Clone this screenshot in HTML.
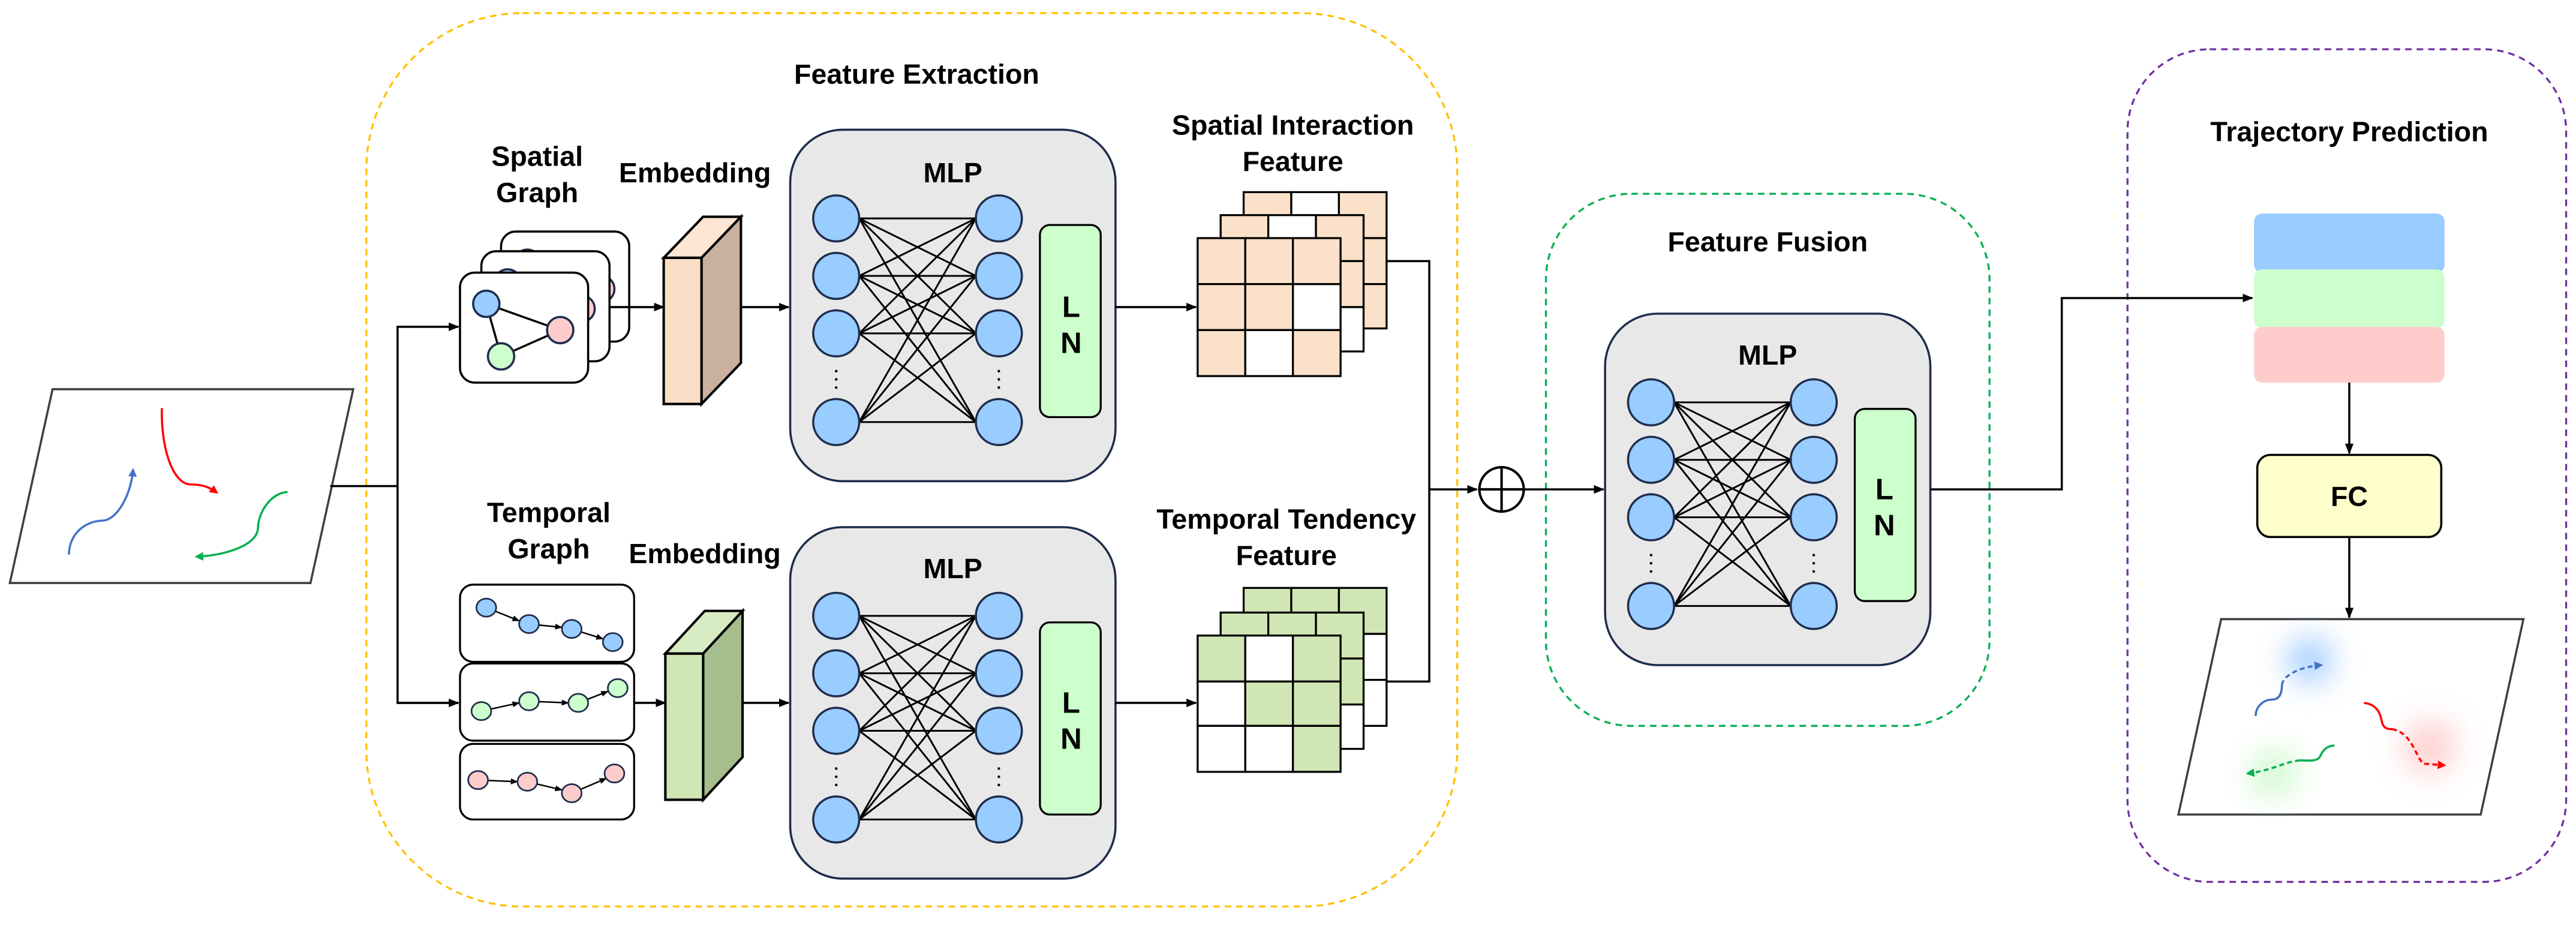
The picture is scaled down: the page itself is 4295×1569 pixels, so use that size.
<!DOCTYPE html>
<html><head><meta charset="utf-8"><style>html,body{margin:0;padding:0;background:#fff}svg{display:block}text{font-family:"Liberation Sans",sans-serif;font-weight:bold;fill:#000;font-size:17px}text.ln{font-size:18px}</style></head>
<body>
<svg width="4295" height="1569" viewBox="0 0 1568 573" preserveAspectRatio="none" xmlns="http://www.w3.org/2000/svg">
<defs>
<marker id="ar" viewBox="0 0 10 10" refX="9" refY="5" markerWidth="5" markerHeight="5" orient="auto"><path d="M0 1L10 5L0 9z" fill="#000"/></marker>
<marker id="ab" viewBox="0 0 10 10" refX="8" refY="5" markerWidth="4" markerHeight="4" orient="auto"><path d="M0 0L10 5L0 10z" fill="#4472c4"/></marker>
<marker id="arr" viewBox="0 0 10 10" refX="8" refY="5" markerWidth="4" markerHeight="4" orient="auto"><path d="M0 0L10 5L0 10z" fill="#ff0000"/></marker>
<marker id="ag" viewBox="0 0 10 10" refX="8" refY="5" markerWidth="4" markerHeight="4" orient="auto"><path d="M0 0L10 5L0 10z" fill="#00b050"/></marker>
<filter id="bl" x="-100%" y="-100%" width="300%" height="300%"><feGaussianBlur stdDeviation="9"/></filter>
<g id="mlp">
<rect x="0" y="0" width="198" height="214" rx="32" fill="#e8e8e8" stroke="#1f2d4d" stroke-width="1.3"/>
<path d="M42 54L113 54M42 54L113 89M42 54L113 124M42 54L113 178M42 89L113 54M42 89L113 89M42 89L113 124M42 89L113 178M42 124L113 54M42 124L113 89M42 124L113 124M42 124L113 178M42 178L113 54M42 178L113 89M42 178L113 124M42 178L113 178" stroke="#000" stroke-width="1.1" fill="none"/>
<g fill="#99ccff" stroke="#1f2d4d" stroke-width="1.3">
<ellipse cx="28" cy="54" rx="14" ry="14"/><ellipse cx="28" cy="89" rx="14" ry="14"/><ellipse cx="28" cy="124" rx="14" ry="14"/><ellipse cx="28" cy="178" rx="14" ry="14"/>
<ellipse cx="127" cy="54" rx="14" ry="14"/><ellipse cx="127" cy="89" rx="14" ry="14"/><ellipse cx="127" cy="124" rx="14" ry="14"/><ellipse cx="127" cy="178" rx="14" ry="14"/>
</g>
<g fill="#000"><circle cx="28" cy="147" r="0.8"/><circle cx="28" cy="152" r="0.8"/><circle cx="28" cy="157" r="0.8"/><circle cx="127" cy="147" r="0.8"/><circle cx="127" cy="152" r="0.8"/><circle cx="127" cy="157" r="0.8"/></g>
<rect x="152" y="58" width="37" height="117" rx="6" fill="#ccffcc" stroke="#000" stroke-width="1.2"/>
</g>
</defs>

<rect x="223" y="8" width="664" height="544" rx="95" fill="none" stroke="#ffc000" stroke-width="1.2" stroke-dasharray="4,3"/>
<rect x="941" y="118" width="270" height="324" rx="52" fill="none" stroke="#00b050" stroke-width="1.2" stroke-dasharray="4,3"/>
<rect x="1295" y="30" width="267" height="507" rx="50" fill="none" stroke="#7030a0" stroke-width="1.2" stroke-dasharray="4,3"/>

<text x="558" y="51" text-anchor="middle">Feature Extraction</text>
<text x="1076" y="153" text-anchor="middle">Feature Fusion</text>
<text x="1430" y="86" text-anchor="middle">Trajectory Prediction</text>

<polygon points="32,237 215,237 189,355 6,355" fill="#fff" stroke="#404040" stroke-width="1.3"/>
<path d="M98.5 248.5C98 275 106 295 116 295C124 295 128 297 132 300" fill="none" stroke="#ff0000" stroke-width="1.3" marker-end="url(#arr)"/>
<path d="M42 337.7C42 325 52 317 63 317C72 316 80 300 81 286" fill="none" stroke="#4472c4" stroke-width="1.3" marker-end="url(#ab)"/>
<path d="M175 299.6C165 300 157 312 157 322C156 332 138 338 119.5 339" fill="none" stroke="#00b050" stroke-width="1.3" marker-end="url(#ag)"/>

<path d="M201 296H242V199H279M242 296V428H279" fill="none" stroke="#000" stroke-width="1.3"/>
<path d="M242 199H279" stroke="#000" stroke-width="1.3" marker-end="url(#ar)"/>
<path d="M242 428H279" stroke="#000" stroke-width="1.3" marker-end="url(#ar)"/>

<text x="327" y="101" text-anchor="middle">Spatial</text>
<text x="327" y="123" text-anchor="middle">Graph</text>
<g stroke="#000" stroke-width="1.3">
<rect x="305" y="141" width="78" height="67" rx="9" fill="#fff"/>
<ellipse cx="321" cy="160" rx="8" ry="8" fill="#99ccff" stroke="#1f2d4d"/><ellipse cx="366" cy="176" rx="8" ry="8" fill="#ffcccc" stroke="#1f2d4d"/>
<rect x="293" y="153" width="78" height="67" rx="9" fill="#fff"/>
<ellipse cx="309" cy="172" rx="8" ry="8" fill="#99ccff" stroke="#1f2d4d"/><ellipse cx="354" cy="188" rx="8" ry="8" fill="#ffcccc" stroke="#1f2d4d"/>
<rect x="280" y="166" width="78" height="67" rx="9" fill="#fff"/>
<path d="M296 185L341 201M296 185L305 217L341 201" fill="none"/>
<ellipse cx="296" cy="185" rx="8" ry="8" fill="#99ccff" stroke="#1f2d4d"/>
<ellipse cx="341" cy="201" rx="8" ry="8" fill="#ffcccc" stroke="#1f2d4d"/>
<ellipse cx="305" cy="217" rx="8" ry="8" fill="#ccffcc" stroke="#1f2d4d"/>
</g>
<path d="M371 187H404" stroke="#000" stroke-width="1.3" marker-end="url(#ar)"/>

<text x="334" y="318" text-anchor="middle">Temporal</text>
<text x="334" y="340" text-anchor="middle">Graph</text>
<g stroke="#000" stroke-width="1.2">
<rect x="280" y="356" width="106" height="47" rx="8" fill="#fff"/>
<rect x="280" y="404" width="106" height="47" rx="8" fill="#fff"/>
<rect x="280" y="453" width="106" height="46" rx="8" fill="#fff"/>
<g stroke-width="0.9" fill="none">
<path d="M296 370L316 378" marker-end="url(#ar)"/><path d="M322 380L342 382" marker-end="url(#ar)"/><path d="M348 383L367 389" marker-end="url(#ar)"/>
<path d="M293 433L316 428" marker-end="url(#ar)"/><path d="M322 427L346 428" marker-end="url(#ar)"/><path d="M352 428L370 421" marker-end="url(#ar)"/>
<path d="M291 475L315 476" marker-end="url(#ar)"/><path d="M321 476L342 481" marker-end="url(#ar)"/><path d="M348 483L369 474" marker-end="url(#ar)"/>
</g>
<g stroke="#1f2d4d" stroke-width="1">
<ellipse cx="296" cy="370" rx="6" ry="5.5" fill="#99ccff"/><ellipse cx="322" cy="380" rx="6" ry="5.5" fill="#99ccff"/><ellipse cx="348" cy="383" rx="6" ry="5.5" fill="#99ccff"/><ellipse cx="373" cy="391" rx="6" ry="5.5" fill="#99ccff"/>
<ellipse cx="293" cy="433" rx="6" ry="5.5" fill="#ccffcc"/><ellipse cx="322" cy="427" rx="6" ry="5.5" fill="#ccffcc"/><ellipse cx="352" cy="428" rx="6" ry="5.5" fill="#ccffcc"/><ellipse cx="376" cy="419" rx="6" ry="5.5" fill="#ccffcc"/>
<ellipse cx="291" cy="475" rx="6" ry="5.5" fill="#ffcccc"/><ellipse cx="321" cy="476" rx="6" ry="5.5" fill="#ffcccc"/><ellipse cx="348" cy="483" rx="6" ry="5.5" fill="#ffcccc"/><ellipse cx="374" cy="471" rx="6" ry="5.5" fill="#ffcccc"/>
</g>
</g>
<path d="M386 428H405" stroke="#000" stroke-width="1.3" marker-end="url(#ar)"/>

<text x="423" y="111" text-anchor="middle">Embedding</text>
<text x="429" y="343" text-anchor="middle">Embedding</text>
<g stroke="#000" stroke-width="1.5" stroke-linejoin="miter">
<polygon points="404,157 428,132 451,132 427,157" fill="#fde6d4"/>
<polygon points="427,157 451,132 451,221 427,246" fill="#c9b09f"/>
<rect x="404" y="157" width="23" height="89" fill="#fadfc6"/>
<polygon points="405,398 429,372 452,372 428,398" fill="#d8ecc4"/>
<polygon points="428,398 452,372 452,461 428,487" fill="#a6bd8e"/>
<rect x="405" y="398" width="23" height="89" fill="#cfe6b5"/>
</g>
<path d="M451 187H480" stroke="#000" stroke-width="1.3" marker-end="url(#ar)"/>
<path d="M452 428H480" stroke="#000" stroke-width="1.3" marker-end="url(#ar)"/>

<use href="#mlp" x="481" y="79"/>
<use href="#mlp" x="481" y="321"/>
<use href="#mlp" x="977" y="191"/>
<text x="580" y="111" text-anchor="middle">MLP</text>
<text class="ln" x="652" y="193" text-anchor="middle">L</text>
<text class="ln" x="652" y="215" text-anchor="middle">N</text>
<text x="580" y="352" text-anchor="middle">MLP</text>
<text class="ln" x="652" y="434" text-anchor="middle">L</text>
<text class="ln" x="652" y="456" text-anchor="middle">N</text>
<text x="1076" y="222" text-anchor="middle">MLP</text>
<text class="ln" x="1147" y="304" text-anchor="middle">L</text>
<text class="ln" x="1147" y="326" text-anchor="middle">N</text>

<path d="M679 187H728" stroke="#000" stroke-width="1.3" marker-end="url(#ar)"/>
<path d="M679 428H728" stroke="#000" stroke-width="1.3" marker-end="url(#ar)"/>

<text x="787" y="82" text-anchor="middle">Spatial Interaction</text>
<text x="787" y="104" text-anchor="middle">Feature</text>
<g stroke="#000" stroke-width="1.2">
<rect x="757" y="117" width="29" height="28" fill="#fbe1c9"/><rect x="786" y="117" width="29" height="28" fill="#fff"/><rect x="815" y="117" width="29" height="28" fill="#fbe1c9"/>
<rect x="757" y="145" width="29" height="28" fill="#fbe1c9"/><rect x="786" y="145" width="29" height="28" fill="#fbe1c9"/><rect x="815" y="145" width="29" height="28" fill="#fbe1c9"/>
<rect x="757" y="173" width="29" height="27" fill="#fbe1c9"/><rect x="786" y="173" width="29" height="27" fill="#fbe1c9"/><rect x="815" y="173" width="29" height="27" fill="#fbe1c9"/>
<rect x="743" y="131" width="29" height="28" fill="#fbe1c9"/><rect x="772" y="131" width="29" height="28" fill="#fff"/><rect x="801" y="131" width="29" height="28" fill="#fbe1c9"/>
<rect x="743" y="159" width="29" height="28" fill="#fbe1c9"/><rect x="772" y="159" width="29" height="28" fill="#fbe1c9"/><rect x="801" y="159" width="29" height="28" fill="#fbe1c9"/>
<rect x="743" y="187" width="29" height="27" fill="#fbe1c9"/><rect x="772" y="187" width="29" height="27" fill="#fff"/><rect x="801" y="187" width="29" height="27" fill="#fff"/>
<rect x="729" y="145" width="29" height="28" fill="#fbe1c9"/><rect x="758" y="145" width="29" height="28" fill="#fbe1c9"/><rect x="787" y="145" width="29" height="28" fill="#fbe1c9"/>
<rect x="729" y="173" width="29" height="28" fill="#fbe1c9"/><rect x="758" y="173" width="29" height="28" fill="#fbe1c9"/><rect x="787" y="173" width="29" height="28" fill="#fff"/>
<rect x="729" y="201" width="29" height="28" fill="#fbe1c9"/><rect x="758" y="201" width="29" height="28" fill="#fff"/><rect x="787" y="201" width="29" height="28" fill="#fbe1c9"/>
</g>

<text x="783" y="322" text-anchor="middle">Temporal Tendency</text>
<text x="783" y="344" text-anchor="middle">Feature</text>
<g stroke="#000" stroke-width="1.2">
<rect x="757" y="358" width="29" height="28" fill="#d0e6b4"/><rect x="786" y="358" width="29" height="28" fill="#d0e6b4"/><rect x="815" y="358" width="29" height="28" fill="#d0e6b4"/>
<rect x="757" y="386" width="29" height="28" fill="#d0e6b4"/><rect x="786" y="386" width="29" height="28" fill="#d0e6b4"/><rect x="815" y="386" width="29" height="28" fill="#fff"/>
<rect x="757" y="414" width="29" height="28" fill="#d0e6b4"/><rect x="786" y="414" width="29" height="28" fill="#d0e6b4"/><rect x="815" y="414" width="29" height="28" fill="#fff"/>
<rect x="743" y="373" width="29" height="28" fill="#d0e6b4"/><rect x="772" y="373" width="29" height="28" fill="#d0e6b4"/><rect x="801" y="373" width="29" height="28" fill="#d0e6b4"/>
<rect x="743" y="401" width="29" height="28" fill="#d0e6b4"/><rect x="772" y="401" width="29" height="28" fill="#d0e6b4"/><rect x="801" y="401" width="29" height="28" fill="#d0e6b4"/>
<rect x="743" y="429" width="29" height="27" fill="#d0e6b4"/><rect x="772" y="429" width="29" height="27" fill="#d0e6b4"/><rect x="801" y="429" width="29" height="27" fill="#fff"/>
<rect x="729" y="387" width="29" height="28" fill="#d0e6b4"/><rect x="758" y="387" width="29" height="28" fill="#fff"/><rect x="787" y="387" width="29" height="28" fill="#d0e6b4"/>
<rect x="729" y="415" width="29" height="27" fill="#fff"/><rect x="758" y="415" width="29" height="27" fill="#d0e6b4"/><rect x="787" y="415" width="29" height="27" fill="#d0e6b4"/>
<rect x="729" y="442" width="29" height="28" fill="#fff"/><rect x="758" y="442" width="29" height="28" fill="#fff"/><rect x="787" y="442" width="29" height="28" fill="#d0e6b4"/>
</g>

<path d="M844 159H870V415H844" fill="none" stroke="#000" stroke-width="1.3"/>
<path d="M870 298H899" stroke="#000" stroke-width="1.3" marker-end="url(#ar)"/>
<circle cx="914" cy="298" r="13.5" fill="#fff" stroke="#000" stroke-width="1.5"/>
<path d="M900.5 298H927.5M914 284.5V311.5" stroke="#000" stroke-width="1.5"/>
<path d="M927.5 298H976" stroke="#000" stroke-width="1.3" marker-end="url(#ar)"/>

<path d="M1175 298H1255V181.5H1371" fill="none" stroke="#000" stroke-width="1.3" marker-end="url(#ar)"/>
<rect x="1372" y="130" width="116" height="36" rx="5" fill="#99ccff"/>
<rect x="1372" y="164" width="116" height="36" rx="5" fill="#ccffcc"/>
<rect x="1372" y="199" width="116" height="34" rx="5" fill="#ffcccc"/>
<path d="M1430 233V276" stroke="#000" stroke-width="1.3" marker-end="url(#ar)"/>
<rect x="1374" y="277" width="112" height="50" rx="8" fill="#ffffcc" stroke="#000" stroke-width="1.3"/>
<text x="1430" y="308" text-anchor="middle">FC</text>
<path d="M1430 327V376" stroke="#000" stroke-width="1.3" marker-end="url(#ar)"/>

<polygon points="1352,377 1536,377 1510,496 1326,496" fill="#fff" stroke="#404040" stroke-width="1.3"/>
<ellipse cx="1406" cy="402" rx="14" ry="14" fill="#8fc3ff" opacity="0.8" filter="url(#bl)"/>
<ellipse cx="1479" cy="455" rx="16" ry="16" fill="#ffb0b0" opacity="0.6" filter="url(#bl)"/>
<ellipse cx="1384" cy="471" rx="15" ry="15" fill="#b5f5b5" opacity="0.6" filter="url(#bl)"/>
<path d="M1373 436C1373 430 1378 426 1383 426C1387 426 1389 423 1389 417" fill="none" stroke="#4472c4" stroke-width="1.3"/>
<path d="M1389 417C1390 411 1400 406 1413 405" fill="none" stroke="#4472c4" stroke-width="1.3" stroke-dasharray="3,2" marker-end="url(#ab)"/>
<path d="M1439 428C1448 429 1449 436 1450 440C1451 444 1454 444 1456 444" fill="none" stroke="#ff0000" stroke-width="1.3"/>
<path d="M1456 444C1468 446 1470 460 1475 465L1488 466" fill="none" stroke="#ff0000" stroke-width="1.3" stroke-dasharray="3,2" marker-end="url(#arr)"/>
<path d="M1421 454C1415 454 1413 459 1412 461C1410 464 1404 463 1400 463" fill="none" stroke="#00b050" stroke-width="1.3"/>
<path d="M1400 463C1390 464 1384 469 1368 471" fill="none" stroke="#00b050" stroke-width="1.3" stroke-dasharray="3,2" marker-end="url(#ag)"/>
</svg>
</body></html>
